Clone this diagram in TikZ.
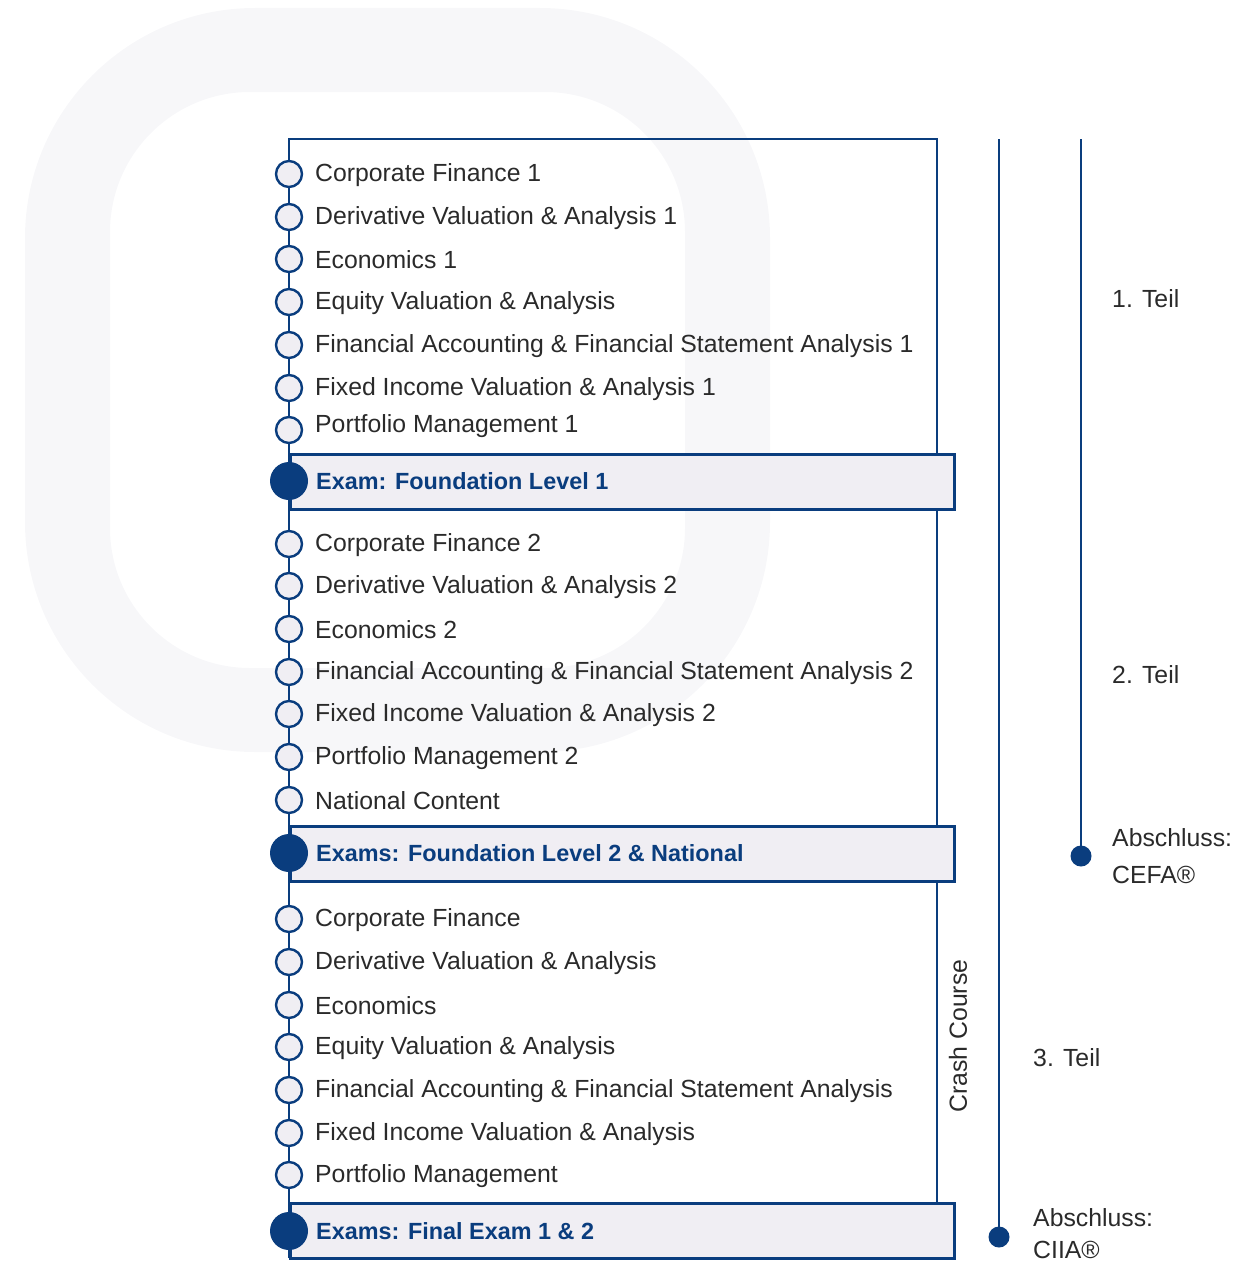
\documentclass[tikz,border=0pt]{standalone}
\usepackage{fontspec}
\setmainfont{Liberation Sans}
\definecolor{navy}{HTML}{0A3D7E}
\definecolor{boxfill}{HTML}{F0EEF3}
\definecolor{bgring}{HTML}{F7F7F9}
\definecolor{txt}{HTML}{2A2A2A}
\begin{document}
\begin{tikzpicture}[x=1pt,y=-1pt,
  frame/.style={draw=navy,line width=2.8pt},
  item/.style={circle,draw=navy,fill=boxfill,line width=2.4pt,minimum size=26pt,inner sep=0pt},
  examdot/.style={circle,fill=navy,minimum size=38pt,inner sep=0pt},
  itemtext/.style={anchor=west,inner sep=0pt,text=txt,font=\fontsize{24.8}{28}\selectfont},
  examtext/.style={anchor=west,inner sep=0pt,text=navy,font=\fontsize{23.4}{28}\selectfont\bfseries},
  exambox/.style={draw=navy,fill=boxfill,line width=2.8pt,anchor=north west,minimum width=664pt,minimum height=55pt,inner sep=0pt},
  sidetext/.style={anchor=west,inner sep=0pt,text=txt,font=\fontsize{24.8}{28}\selectfont},
  sidedot/.style={circle,fill=navy,minimum size=21pt,inner sep=0pt}]
\useasboundingbox (0,0) rectangle (1255,1263);
% background ring
\fill[bgring,even odd rule] [rounded corners=230pt] (25,8) rectangle (770,752) [rounded corners=140pt] (110,92) rectangle (685,668);
% frame
\coordinate (tl) at (289,139);
\coordinate (tr) at (937,139);
\coordinate (bl) at (289,1258);
\node[exambox] (b1) at (289,453) {};
\node[exambox] (b2) at (289,825) {};
\node[exambox] (b3) at (289,1202) {};
\draw[frame] (bl) -- (tl) -- (tr) -- (tr |- b1.north);
\draw[frame] (tr |- b1.south) -- (tr |- b2.north);
\draw[frame] (tr |- b2.south) -- (tr |- b3.north);
% items
\foreach \n/\y/\t in {
 a1/174/Corporate Finance 1,
 a2/217/Derivative Valuation \& Analysis 1,
 a3/259/Economics 1,
 a4/302/Equity Valuation \& Analysis,
 a5/345/Financial Accounting \& Financial Statement Analysis 1,
 a6/388/Fixed Income Valuation \& Analysis 1,
 b1i/544/Corporate Finance 2,
 b2i/586/Derivative Valuation \& Analysis 2,
 b3i/629/Economics 2,
 b4i/672/Financial Accounting \& Financial Statement Analysis 2,
 b5i/714/Fixed Income Valuation \& Analysis 2,
 b6i/757/Portfolio Management 2,
 b7i/800/National Content,
 c1/919/Corporate Finance,
 c2/962/Derivative Valuation \& Analysis,
 c3/1005/Economics,
 c4/1047/Equity Valuation \& Analysis,
 c5/1090/Financial Accounting \& Financial Statement Analysis,
 c6/1133/Fixed Income Valuation \& Analysis,
 c7/1175/Portfolio Management}{
  \node[item] (\n) at (289,\y) {};
  \node[itemtext] (\n t) at (315,\y+1) {\t};
}
\node[item] (a7) at (289,430) {};
\node[itemtext] (a7t) at (315,426) {Portfolio Management 1};
% exams
\node[examdot] (e1) at (289,481) {};
\node[examtext] (e1t) at (316,481) {Exam: Foundation Level 1};
\node[examdot] (e2) at (289,853) {};
\node[examtext] (e2t) at (316,853) {Exams: Foundation Level 2 \& National};
\node[examdot] (e3) at (289,1231) {};
\node[examtext] (e3t) at (316,1231) {Exams: Final Exam 1 \& 2};
% crash course
\node[rotate=90,inner sep=0pt,text=txt,font=\fontsize{24.8}{28}\selectfont] (cc) at (958,1036) {Crash Course};
% right lines
\coordinate (r1top) at (999,139);
\node[sidedot] (r1dot) at (999,1237) {};
\draw[navy,line width=2.8pt] (r1top) -- (r1dot.center);
\coordinate (r2top) at (1081,139);
\node[sidedot] (r2dot) at (1081,856) {};
\draw[navy,line width=2.8pt] (r2top) -- (r2dot.center);
\node[sidetext] (t1) at (1112,299) {1. Teil};
\node[sidetext] (t2) at (1112,675) {2. Teil};
\node[sidetext] (t3) at (1112,838) {Abschluss:};
\node[sidetext] (t4) at (1112,875) {CEFA®};
\node[sidetext] (t5) at (1033,1058) {3. Teil};
\node[sidetext] (t6) at (1033,1218) {Abschluss:};
\node[sidetext] (t7) at (1033,1250) {CIIA®};
\end{tikzpicture}
\end{document}
